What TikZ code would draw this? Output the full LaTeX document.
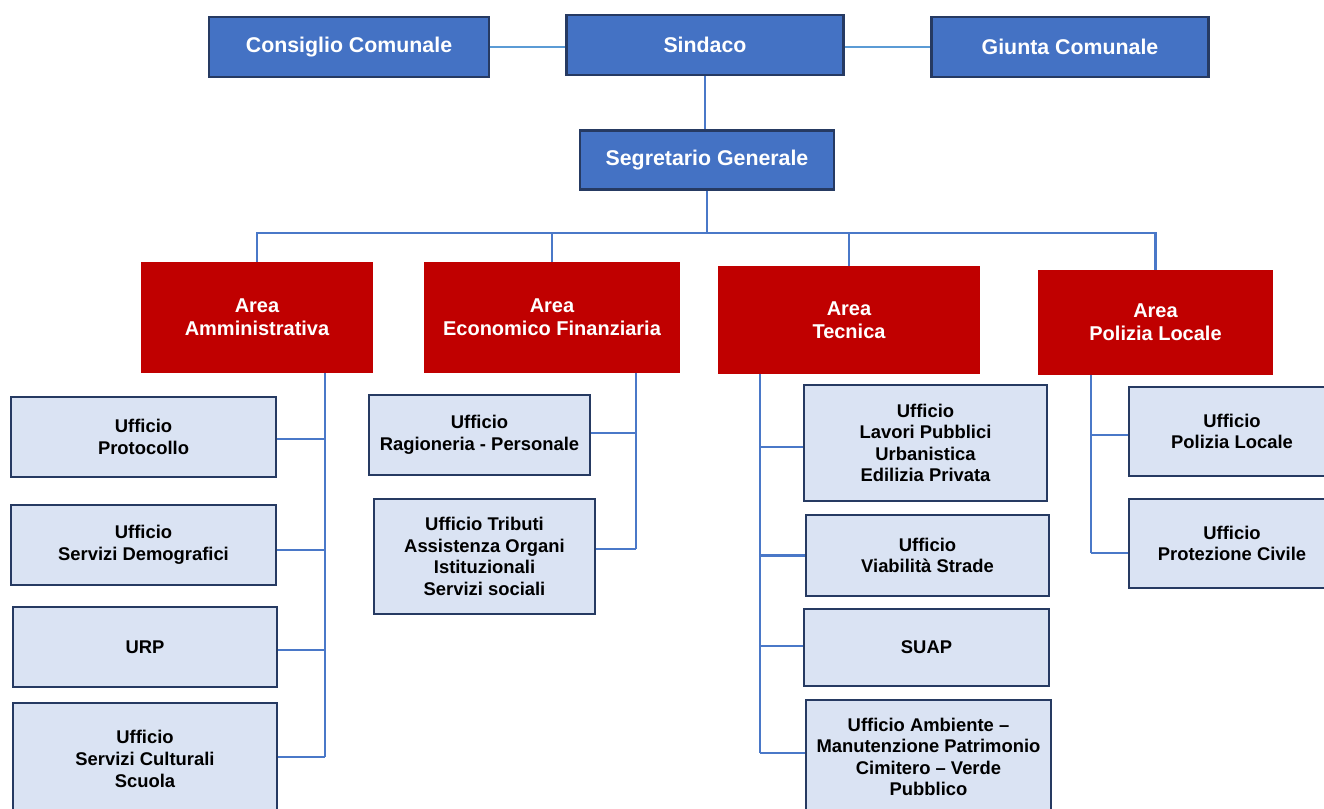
\documentclass[tikz,border=0pt]{standalone}
\usepackage{xcolor}
\usepackage{fontspec}
\setmainfont{Liberation Sans}
\usepackage{tikz}
\usetikzlibrary{positioning}

\definecolor{topblue}{HTML}{4472C4}
\definecolor{navy}{RGB}{38,58,98}
\definecolor{areared}{HTML}{C00000}
\definecolor{offfill}{HTML}{DAE3F3}
\definecolor{connblue}{HTML}{4A78C8}
\definecolor{lightblue}{HTML}{5B9BD5}

\begin{document}
\begin{tikzpicture}[x=0.75pt, y=-0.75pt,
  top/.style={draw=navy, line width=2.1pt, fill=topblue, text=white, font=\fontsize{16}{19}\selectfont\bfseries, align=center, inner sep=0pt},
  area/.style={fill=areared, text=white, font=\fontsize{15}{17.3}\selectfont\bfseries, align=center, inner sep=0pt},
  ufficio/.style={draw=navy, line width=1.9pt, fill=offfill, font=\fontsize{13.8}{16.2}\selectfont\bfseries, align=center, inner sep=0pt},
  link/.style={line width=1.7pt, draw=connblue},
  toplink/.style={line width=1.7pt, draw=lightblue},
  size/.style 2 args={minimum width=#1*0.75pt, minimum height=#2*0.75pt}
]
\useasboundingbox (0,0) rectangle (1324,808);

% Vertice
\node[top, size={280}{60}] (consiglio) at (349,47) {Consiglio Comunale};
\node[top, size={277}{60}] (sindaco) at (705,45) {Sindaco};
\node[top, size={277}{60}] (giunta) at (1070,47) {Giunta Comunale};
\node[top, size={254}{59}] (segretario) at (707,160) {Segretario Generale};

% Aree
\node[area, size={232}{111}] (amm) at (257,317.5) {Area\\Amministrativa};
\node[area, size={256}{111}] (eco) at (552,317.5) {Area\\Economico Finanziaria};
\node[area, size={262}{108}] (tec) at (849,320) {Area\\Tecnica};
\node[area, size={235}{105}] (pol) at (1155.5,322.5) {Area\\Polizia Locale};

% Uffici - area amministrativa
\node[ufficio, size={265}{80}] (protocollo) at (143.5,437) {Ufficio\\Protocollo};
\node[ufficio, size={265}{80}] (demografici) at (143.5,545) {Ufficio\\Servizi Demografici};
\node[ufficio, size={264}{80}] (urp) at (145,647) {URP};
\node[ufficio, size={264}{112}] (cultura) at (145,759) {Ufficio\\Servizi Culturali\\Scuola};

% Uffici - area economico finanziaria
\node[ufficio, size={221}{80}] (ragioneria) at (479.5,435) {Ufficio\\Ragioneria - Personale};
\node[ufficio, size={221}{115}] (tributi) at (484.5,556.5) {Ufficio Tributi\\Assistenza Organi\\Istituzionali\\Servizi sociali};

% Uffici - area tecnica
\node[ufficio, size={243}{116}] (lavori) at (925.5,443) {Ufficio\\Lavori Pubblici\\Urbanistica\\Edilizia Privata};
\node[ufficio, size={243}{81}] (viabilita) at (927.5,555.5) {Ufficio\\Viabilità Strade};
\node[ufficio, size={245}{77}] (suap) at (926.5,647.5) {SUAP};
\node[ufficio, size={245}{114}] (ambiente) at (928.5,757) {Ufficio Ambiente –\\Manutenzione Patrimonio\\Cimitero – Verde\\Pubblico};

% Uffici - area polizia locale
\node[ufficio, size={206}{89}] (polizia) at (1232,431.5) {Ufficio\\Polizia Locale};
\node[ufficio, size={206}{89}] (protezione) at (1232,543.5) {Ufficio\\Protezione Civile};

% Collegamenti vertice
\draw[toplink] (consiglio.east) -- (consiglio.east -| sindaco.west);
\draw[toplink] (giunta.west -| sindaco.east) -- (giunta.west);
\draw[link] (sindaco.south) -- (sindaco.south |- segretario.north);

% Collegamenti aree
\coordinate (bus) at (705,233);
\foreach \a in {amm,eco,tec,pol}
  \draw[link] (segretario.south) -- (segretario.south |- bus) -| (\a.north);

% Collegamenti uffici
\coordinate (ammx) at (325,0);
\coordinate (ecox) at (636,0);
\coordinate (tecx) at (760,0);
\coordinate (polx) at (1091,0);

\draw[link] (amm.south -| ammx) -- ([yshift=1.5pt]cultura.east -| ammx);
\foreach \u/\dy in {protocollo/-1.5pt,demografici/-3.7pt,urp/-2.2pt,cultura/1.5pt}
  \draw[link] ([yshift=\dy]\u.east) -- ([yshift=\dy]\u.east -| ammx);

\draw[link] (eco.south -| ecox) -- ([yshift=5.6pt]tributi.east -| ecox);
\foreach \u/\dy in {ragioneria/1.5pt,tributi/5.6pt}
  \draw[link] ([yshift=\dy]\u.east) -- ([yshift=\dy]\u.east -| ecox);

\draw[link] (tec.south -| tecx) -- ([yshift=3pt]ambiente.west -| tecx);
\foreach \u/\dy in {lavori/-3pt,viabilita/0pt,suap/1.1pt,ambiente/3pt}
  \draw[link] ([yshift=\dy]\u.west) -- ([yshift=\dy]\u.west -| tecx);

\draw[link] (pol.south -| polx) -- ([yshift=-7.1pt]protezione.west -| polx);
\foreach \u/\dy in {polizia/-2.6pt,protezione/-7.1pt}
  \draw[link] ([yshift=\dy]\u.west) -- ([yshift=\dy]\u.west -| polx);

\end{tikzpicture}
\end{document}
